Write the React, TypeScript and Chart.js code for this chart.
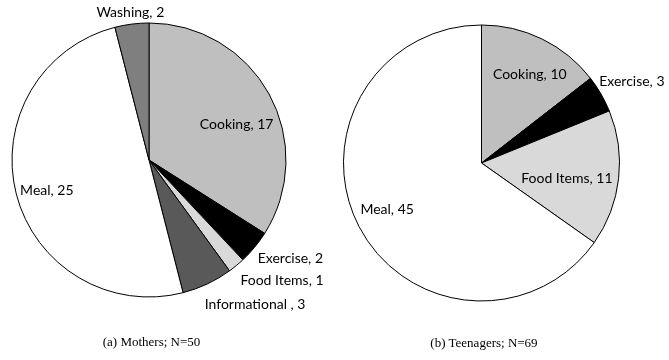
import React, { useEffect, useRef } from "react";
import { Chart, registerables } from "chart.js";

Chart.register(...registerables);

// ---- Data ----
const motherCategories = ["Cooking", "Exercise", "Food Items", "Informational ", "Meal", "Washing"];
const motherValues = [17, 2, 1, 3, 25, 2];
const motherColors = ["#bfbfbf", "#000000", "#d9d9d9", "#595959", "#ffffff", "#7f7f7f"];
const motherCaption = "(a) Mothers; N=50";

const teenCategories = ["Cooking", "Exercise", "Food Items", "Meal"];
const teenValues = [10, 3, 11, 45];
const teenColors = ["#bfbfbf", "#000000", "#d9d9d9", "#ffffff"];
const teenCaption = "(b) Teenagers; N=69";

// label placement relative to each slice (radius fraction along mid-angle + small nudge)
type Place = { dist: number; align: CanvasTextAlign; dx: number; dy: number };
const motherPlacement: Place[] = [
  { dist: 0.73, align: "center", dx: 0, dy: 13 },
  { dist: 1.058, align: "left", dx: -3, dy: 6 },
  { dist: 1.058, align: "left", dx: -1, dy: 9 },
  { dist: 1.058, align: "left", dx: -6, dy: 13 },
  { dist: 0.77, align: "center", dx: 0, dy: 4 },
  { dist: 1.088, align: "center", dx: 0, dy: 0 },
];
const teenPlacement: Place[] = [
  { dist: 0.73, align: "center", dx: 4, dy: 1.5 },
  { dist: 1.06, align: "left", dx: -9, dy: -8 },
  { dist: 0.63, align: "center", dx: -1, dy: 6 },
  { dist: 0.77, align: "center", dx: 0, dy: -2 },
];

const LABEL_FONT = '14px Lato, "Noto Sans", sans-serif';

function makeLabelPlugin(placement: Place[]) {
  return {
    id: "sliceLabels",
    afterDatasetsDraw(chart: any) {
      const ctx = chart.ctx as CanvasRenderingContext2D;
      const meta = chart.getDatasetMeta(0);
      const ds = chart.data.datasets[0];
      meta.data.forEach((arc: any, i: number) => {
        const p = placement[i];
        if (!p) return;
        const { x, y, startAngle, endAngle, outerRadius } = arc.getProps(
          ["x", "y", "startAngle", "endAngle", "outerRadius"],
          true
        );
        const mid = (startAngle + endAngle) / 2;
        const d = outerRadius * p.dist;
        const lx = x + Math.cos(mid) * d + p.dx;
        const ly = y + Math.sin(mid) * d + p.dy;
        ctx.save();
        ctx.font = LABEL_FONT;
        ctx.fillStyle = "#000";
        ctx.textAlign = p.align;
        ctx.textBaseline = "middle";
        ctx.fillText(`${chart.data.labels[i]}, ${ds.data[i]}`, lx, ly);
        ctx.restore();
      });
    },
  };
}

type PieProps = {
  labels: string[];
  values: number[];
  colors: string[];
  placement: Place[];
  radius: number;
  padding: { left: number; right: number; top: number; bottom: number };
  width: number;
  height: number;
  left: number;
};

function PieChart(props: PieProps) {
  const ref = useRef<HTMLCanvasElement | null>(null);
  useEffect(() => {
    if (!ref.current) return;
    const chart = new Chart(ref.current, {
      type: "pie",
      data: {
        labels: props.labels,
        datasets: [
          {
            data: props.values,
            backgroundColor: props.colors,
            borderColor: "#000000",
            borderWidth: 1,
          },
        ],
      },
      options: {
        responsive: false,
        animation: false,
        devicePixelRatio: 1,
        radius: props.radius,
        layout: { padding: props.padding },
        plugins: {
          legend: { display: false },
          tooltip: { enabled: false },
          title: { display: false },
        },
      } as any,
      plugins: [makeLabelPlugin(props.placement)],
    });
    return () => chart.destroy();
  }, []);
  return (
    <canvas
      ref={ref}
      width={props.width}
      height={props.height}
      style={{
        position: "absolute",
        left: props.left,
        top: 0,
        width: props.width,
        height: props.height,
      }}
    />
  );
}

const captionStyle: React.CSSProperties = {
  position: "absolute",
  width: 200,
  textAlign: "center",
  fontFamily: '"Liberation Serif", "Times New Roman", serif',
  fontSize: 13,
  lineHeight: "16px",
  color: "#000",
  whiteSpace: "nowrap",
};

export default function App() {
  return (
    <div
      style={{
        position: "absolute",
        left: 0,
        top: 0,
        width: 669,
        height: 360,
        background: "#ffffff",
        overflow: "hidden",
      }}
    >
      <PieChart
        labels={motherCategories}
        values={motherValues}
        colors={motherColors}
        placement={motherPlacement}
        radius={137}
        padding={{ left: 12, right: 48, top: 23, bottom: 63 }}
        width={334}
        height={360}
        left={0}
      />
      <PieChart
        labels={teenCategories}
        values={teenValues}
        colors={teenColors}
        placement={teenPlacement}
        radius={138}
        padding={{ left: 10, right: 50, top: 25, bottom: 59 }}
        width={335}
        height={360}
        left={334}
      />
      <div style={{ ...captionStyle, left: 151.5 - 100, top: 334 }}>{motherCaption}</div>
      <div style={{ ...captionStyle, left: 484 - 100, top: 335 }}>{teenCaption}</div>
    </div>
  );
}
